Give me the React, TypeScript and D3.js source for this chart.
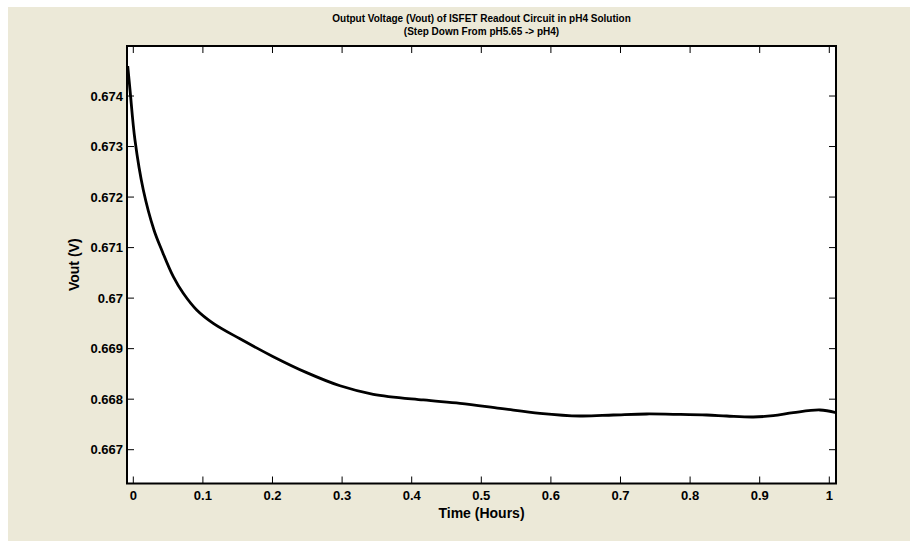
import React from "react";
import * as d3 from "d3";

const titleLines = [
  "Output Voltage (Vout) of ISFET Readout Circuit in pH4 Solution",
  "(Step Down From pH5.65 -> pH4)",
];
const xLabel = "Time (Hours)";
const yLabel = "Vout (V)";

const xTicks = [0, 0.1, 0.2, 0.3, 0.4, 0.5, 0.6, 0.7, 0.8, 0.9, 1];
const xTickLabels = ["0", "0.1", "0.2", "0.3", "0.4", "0.5", "0.6", "0.7", "0.8", "0.9", "1"];
const yTicks = [0.667, 0.668, 0.669, 0.67, 0.671, 0.672, 0.673, 0.674];
const yTickLabels = ["0.667", "0.668", "0.669", "0.67", "0.671", "0.672", "0.673", "0.674"];

const timeHours = [
  -0.008, -0.0047, 0.0024, 0.0144, 0.0297, 0.0408, 0.0575, 0.0718, 0.0911, 0.1149,
  0.1533, 0.2011, 0.2491, 0.297, 0.3448, 0.4167, 0.4694, 0.5269, 0.5843, 0.6418,
  0.6897, 0.7376, 0.7759, 0.8239, 0.8526, 0.8908, 0.9195, 0.9483, 0.9866, 1.0096,
];
const voutV = [
  0.674594, 0.674119, 0.673129, 0.67214, 0.671348, 0.670952, 0.670424, 0.670095, 0.669765, 0.669501,
  0.669195, 0.668841, 0.668525, 0.668265, 0.668097, 0.667984, 0.667918, 0.667819, 0.66772, 0.667667,
  0.667687, 0.667707, 0.6677, 0.667687, 0.667667, 0.667647, 0.667674, 0.667733, 0.667786, 0.667733,
];

const W = 910;
const H = 541;
const left = 127;
const right = 836;
const top = 46;
const bottom = 483.5;
const font = "'Liberation Sans', Arial, sans-serif";

export default function App() {
  const x = d3.scaleLinear().domain([-0.00905, 1.00963]).range([left, right]);
  const y = d3.scaleLinear().domain([0.666331, 0.67499]).range([bottom, top]);
  const pts: [number, number][] = timeHours.map((t, i) => [t, voutV[i]]);
  const line = d3
    .line<[number, number]>()
    .x((d) => x(d[0]))
    .y((d) => y(d[1]))
    .curve(d3.curveCatmullRom.alpha(0.5));
  const tk = 7;
  return (
    <svg
      width={W}
      height={H}
      style={{ position: "absolute", left: 0, top: 0, display: "block" }}
    >
      <rect x={0} y={0} width={W} height={H} fill="#ffffff" />
      <rect x={8} y={7} width={W - 8} height={H - 7} fill="#ece9d8" />
      <rect x={left} y={top} width={right - left} height={bottom - top} fill="#ffffff" />
      <defs>
        <clipPath id="plotclip">
          <rect x={left} y={top} width={right - left} height={bottom - top} />
        </clipPath>
      </defs>
      <path
        d={line(pts) || ""}
        fill="none"
        stroke="#000"
        strokeWidth={2.8}
        strokeLinejoin="round"
        clipPath="url(#plotclip)"
      />
      {xTicks.map((t) => (
        <g key={"xt" + t}>
          <line x1={x(t)} x2={x(t)} y1={bottom} y2={bottom - tk} stroke="#000" strokeWidth={1} />
          <line x1={x(t)} x2={x(t)} y1={top} y2={top + tk} stroke="#000" strokeWidth={1} />
        </g>
      ))}
      {yTicks.map((v) => (
        <g key={"yt" + v}>
          <line x1={left} x2={left + tk} y1={y(v)} y2={y(v)} stroke="#000" strokeWidth={1} />
          <line x1={right} x2={right - tk} y1={y(v)} y2={y(v)} stroke="#000" strokeWidth={1} />
        </g>
      ))}
      <rect
        x={left}
        y={top}
        width={right - left}
        height={bottom - top}
        fill="none"
        stroke="#000"
        strokeWidth={2}
      />
      {xTicks.map((t, i) => (
        <text
          key={"xl" + t}
          x={x(t)}
          y={500}
          textAnchor="middle"
          fontFamily={font}
          fontWeight="bold"
          fontSize={13}
          fill="#000"
        >
          {xTickLabels[i]}
        </text>
      ))}
      {yTicks.map((v, i) => (
        <text
          key={"yl" + v}
          x={left - 4}
          y={y(v)}
          dy="0.36em"
          textAnchor="end"
          fontFamily={font}
          fontWeight="bold"
          fontSize={13}
          fill="#000"
        >
          {yTickLabels[i]}
        </text>
      ))}
      <text
        x={(left + right) / 2}
        y={518}
        textAnchor="middle"
        fontFamily={font}
        fontWeight="bold"
        fontSize={14}
        fill="#000"
      >
        {xLabel}
      </text>
      <text
        transform={`translate(79,${(top + bottom) / 2}) rotate(-90)`}
        textAnchor="middle"
        fontFamily={font}
        fontWeight="bold"
        fontSize={14}
        fill="#000"
      >
        {yLabel}
      </text>
      {titleLines.map((s, i) => (
        <text
          key={"t" + i}
          x={(left + right) / 2}
          y={22 + i * 13}
          textAnchor="middle"
          fontFamily={font}
          fontWeight="bold"
          fontSize={10}
          fill="#000"
        >
          {s}
        </text>
      ))}
    </svg>
  );
}
